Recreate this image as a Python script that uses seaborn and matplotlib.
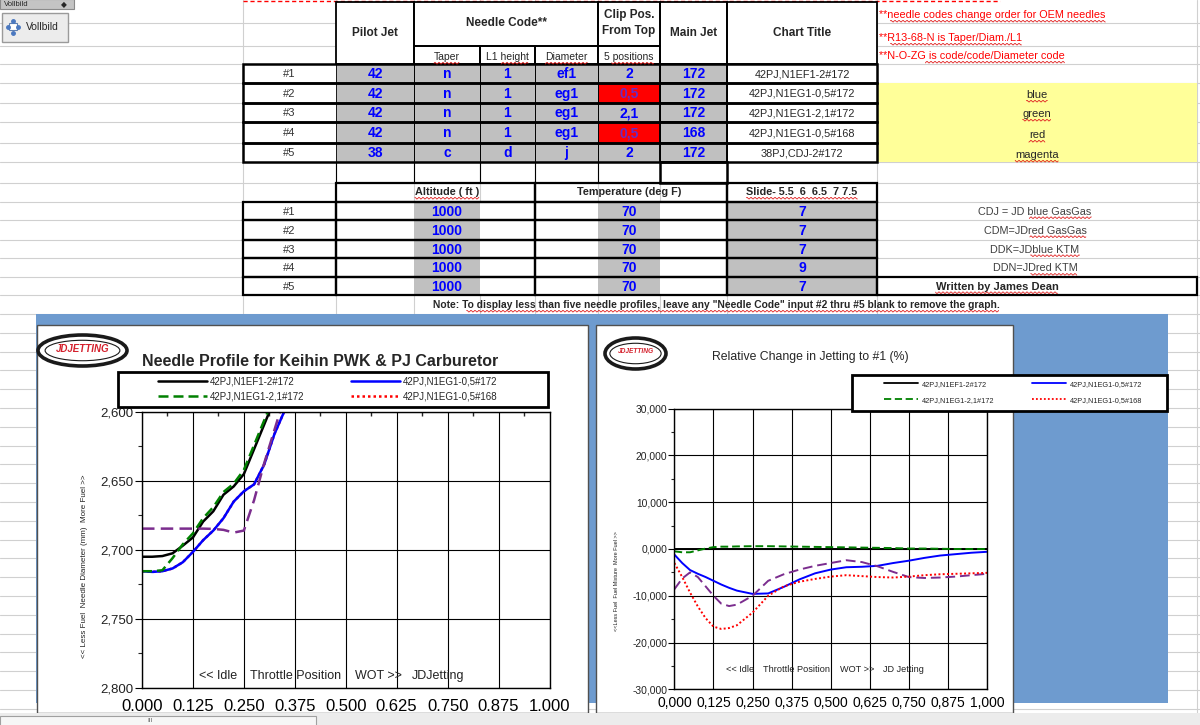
import numpy as np
import pandas as pd
import matplotlib
matplotlib.use('Agg')
import matplotlib.pyplot as plt
from matplotlib.patches import Rectangle, Ellipse
from matplotlib.lines import Line2D
from matplotlib.ticker import FixedLocator, FuncFormatter
import seaborn as sns

# ---------------- data ----------------
row_labels = ['#1', '#2', '#3', '#4', '#5']
pilot_jet = [42, 42, 42, 42, 38]
taper = ['n', 'n', 'n', 'n', 'c']
l1_height = ['1', '1', '1', '1', 'd']
diameter = ['ef1', 'eg1', 'eg1', 'eg1', 'j']
clip_pos = ['2', '0,5', '2,1', '0,5', '2']
main_jet = [172, 172, 172, 168, 172]
altitude = [1000, 1000, 1000, 1000, 1000]
temperature = [70, 70, 70, 70, 70]
slide = [7, 7, 7, 9, 7]
color_names = ['blue', 'green', 'red', 'magenta']
needle_notes = ['CDJ = JD blue GasGas', 'CDM=JDred GasGas', 'DDK=JDblue KTM', 'DDN=JDred KTM']

chart_titles = [f'{p}PJ,{t.upper()}{l.upper()}{d.upper()}-{c}#{m}'
                for p, t, l, d, c, m in zip(pilot_jet, taper, l1_height, diameter, clip_pos, main_jet)]

# needle profile (diameter in mm vs throttle position)
throttle_needle = [0.0, 0.025, 0.05, 0.075, 0.1, 0.125, 0.15, 0.175, 0.2, 0.225,
                   0.25, 0.275, 0.3, 0.325, 0.35, 0.375]
diam_1 = [2.705, 2.705, 2.7045, 2.7025, 2.697, 2.691, 2.6795, 2.672, 2.660, 2.654,
          2.645, 2.627, 2.609, 2.591, 2.573, 2.555]
diam_2 = [2.7155, 2.716, 2.7155, 2.7135, 2.709, 2.7015, 2.693, 2.686, 2.677, 2.665,
          2.6575, 2.6525, 2.638, 2.616, 2.599, 2.582]
diam_3 = [2.7155, 2.7155, 2.7148, 2.706, 2.696, 2.688, 2.677, 2.669, 2.658, 2.652,
          2.642, 2.624, 2.606, 2.588, 2.570, 2.552]
diam_4 = diam_2  # same needle, only main jet differs
diam_5 = [2.6846, 2.6846, 2.6846, 2.6846, 2.6846, 2.6846, 2.6846, 2.6848, 2.6855, 2.6875,
          2.686, 2.664, 2.637, 2.613, 2.589, 2.565]

# relative change in jetting to #1 (%)
throttle_rel = [0.0, 0.025, 0.05, 0.075, 0.1, 0.125, 0.15, 0.175, 0.2, 0.25, 0.3, 0.35,
                0.4, 0.45, 0.5, 0.55, 0.6, 0.65, 0.7, 0.75, 0.8, 0.85, 0.9, 0.95, 1.0]
rel_1 = [0.0] * 25
rel_2 = [-1.2, -3.0, -4.5, -5.3, -6.0, -6.8, -7.6, -8.3, -8.9, -9.6, -9.5, -8.1,
         -6.5, -5.2, -4.4, -3.9, -3.8, -3.6, -3.0, -2.5, -1.9, -1.4, -1.1, -0.8, -0.6]
rel_3 = [-0.5, -0.7, -0.7, -0.3, 0.1, 0.4, 0.5, 0.5, 0.55, 0.6, 0.6, 0.55,
         0.5, 0.45, 0.4, 0.35, 0.3, 0.25, 0.2, 0.1, 0.1, 0.05, 0.0, 0.0, 0.0]
rel_4 = [-3.0, -6.0, -9.3, -12.3, -14.8, -16.6, -17.1, -16.9, -16.3, -13.6, -10.0, -8.0,
         -7.0, -6.4, -5.9, -5.6, -5.8, -6.0, -6.1, -5.9, -5.6, -5.4, -5.3, -5.2, -5.1]
rel_5 = [-8.6, -6.3, -5.0, -6.0, -8.0, -10.0, -11.7, -12.2, -11.9, -10.0, -6.8, -5.4,
         -4.4, -3.6, -3.0, -2.4, -2.8, -3.7, -4.9, -6.0, -6.2, -6.1, -5.9, -5.6, -5.3]

line_colors = ['#000000', '#0000ff', '#008000', '#ff0000', '#7b2d8e']
line_dashes = ['', '', (4, 2), (1, 1.2), (5, 2.5)]

# ---------------- style ----------------
sns.set_theme(style='white')
plt.rcParams['font.family'] = ['Liberation Sans', 'DejaVu Sans']

W, H = 1200, 725
fig = plt.figure(figsize=(12, 7.25), dpi=100, facecolor='white')


def px_axes(x0, y0, x1, y1, z):
    return fig.add_axes([x0 / W, 1 - y1 / H, (x1 - x0) / W, (y1 - y0) / H], zorder=z)


bg = fig.add_axes([0, 0, 1, 1], zorder=0)
bg.set_xlim(0, W); bg.set_ylim(H, 0); bg.axis('off')
ov = fig.add_axes([0, 0, 1, 1], zorder=5)
ov.set_xlim(0, W); ov.set_ylim(H, 0); ov.axis('off')

# ---------------- spreadsheet background ----------------
grid_c = '#d0d0d0'
cols = [243, 336, 414, 480, 535, 598, 660, 727, 877, 1197]
rows = [22.7, 45.7, 64.3, 83.3, 102.7, 122.3, 143.3, 162.3, 182.7, 201.7, 220.3,
        239.7, 258.3, 277, 295.3, 314] + list(np.arange(332.8, 712, 18.8))
for y in rows:
    bg.plot([0, W], [y, y], color=grid_c, lw=0.8, zorder=0)
for x in cols:
    bg.plot([x, x], [0, H], color=grid_c, lw=0.8, zorder=0)

# page-break marks
bg.plot([243, 1000], [1, 1], color='red', lw=1, ls=(0, (3, 2)), zorder=1)

# toolbar
bg.add_patch(Rectangle((0, -1), 74, 10, fc='#c4c4c4', ec='#8a8a8a', lw=0.8, zorder=2))
bg.text(4, 4.3, 'Vollbild', fontsize=5.5, va='center', zorder=3)
bg.text(64, 4.3, '\u25c6', fontsize=5.5, va='center', ha='center', zorder=3,
        family=['DejaVu Sans'])
bg.add_patch(Rectangle((2, 13), 66, 29, fc='#ececec', ec='#9a9a9a', lw=1, zorder=2))
bg.add_patch(Rectangle((9, 23), 8, 7, fc='white', ec='#6080b0', lw=0.8, zorder=3))
for dx, dy in [(-5, 0), (5, 0), (0, -6), (0, 6)]:
    bg.plot(13 + dx, 26.5 + dy, marker='o', ms=2.5, color='#4a78c0', zorder=3)
bg.text(26, 27, 'Vollbild', fontsize=7.5, va='center', zorder=3)

squiggle = []  # (text artist, start fraction)


def cell(x0, x1, y0, y1, fc='none', lw=1.0, z=2):
    bg.add_patch(Rectangle((x0, y0), x1 - x0, y1 - y0, fc=fc, ec='black', lw=lw, zorder=z))


def fill(x0, x1, y0, y1, fc):
    bg.add_patch(Rectangle((x0, y0), x1 - x0, y1 - y0, fc=fc, ec='none', zorder=1.5))


c0, c1, c2, c3, c4, c5, c6, c7, c8, c9 = cols
# table 1 headers
for a, b, y0, y1 in [(c1, c2, 2, 64.3), (c2, c5, 2, 45.7), (c2, c3, 45.7, 64.3), (c3, c4, 45.7, 64.3),
                     (c4, c5, 45.7, 64.3), (c5, c6, 2, 45.7), (c5, c6, 45.7, 64.3),
                     (c6, c7, 2, 64.3), (c7, c8, 2, 64.3)]:
    fill(a, b, y0, y1, 'white')
    cell(a, b, y0, y1, lw=1.3)
hb = dict(fontsize=8.5, fontweight='bold', ha='center', va='center', zorder=4)
hr = dict(fontsize=7.5, ha='center', va='center', zorder=4)
bg.text((c1 + c2) / 2, 33, 'Pilot Jet', **hb)
bg.text((c2 + c5) / 2, 23, 'Needle Code**', **hb)
bg.text((c5 + c6) / 2, 23, 'Clip Pos.\nFrom Top', linespacing=1.35, **hb)
bg.text((c6 + c7) / 2, 33, 'Main Jet', **hb)
bg.text((c7 + c8) / 2, 33, 'Chart Title', **hb)
squiggle.append((bg.text((c2 + c3) / 2, 57, 'Taper', **hr), 0))
squiggle.append((bg.text((c3 + c4) / 2, 57, 'L1 height', **hr), 0.35))
squiggle.append((bg.text((c4 + c5) / 2, 57, 'Diameter', **hr), 0))
squiggle.append((bg.text((c5 + c6) / 2, 57, '5 positions', **hr), 0.15))

# notes in red
for y, s, f in [(15, '**needle codes change order for OEM needles', 0.05),
                (38, '**R13-68-N is Taper/Diam./L1', 0.08),
                (56, '**N-O-ZG is code/code/Diameter code', 0.25)]:
    t = bg.text(879, y, s, color='#ff0000', fontsize=7.8, va='center', zorder=4)
    squiggle.append((t, f))

# yellow legend-colour area
fill(c8, c9, 83.3, 162.3, '#ffff99')
for s, y in zip(color_names, [95, 114, 135, 155]):
    squiggle.append((bg.text(1037, y, s, fontsize=8, ha='center', va='center', zorder=4), 0))

row_y = [64.3, 83.3, 102.7, 122.3, 143.3, 162.3]
val = dict(fontsize=10, fontweight='bold', color='#0000ff', ha='center', va='center', zorder=4)
for i in range(5):
    y0, y1 = row_y[i], row_y[i + 1]
    ym = (y0 + y1) / 2 + 0.5
    fill(c0, c1, y0, y1, 'white')
    fill(c1, c7, y0, y1, '#c0c0c0')
    fill(c7, c8, y0, y1, 'white')
    clip_red = clip_pos[i] == '0,5'
    if clip_red:
        fill(c5, c6, y0, y1, '#ff0000')
    for a, b in [(c1, c2), (c2, c3), (c3, c4), (c4, c5), (c5, c6), (c6, c7)]:
        cell(a, b, y0, y1, lw=0.6)
    cell(c0, c8, y0, y1, lw=1.8)
    cell(c6, c7, y0, y1, lw=1.4)
    bg.text((c0 + c1) / 2, ym, row_labels[i], fontsize=8, color='#333333', ha='center', va='center', zorder=4)
    bg.text((c1 + c2) / 2, ym, str(pilot_jet[i]), **val)
    bg.text((c2 + c3) / 2, ym, taper[i], **val)
    bg.text((c3 + c4) / 2, ym, l1_height[i], **val)
    bg.text((c4 + c5) / 2, ym, diameter[i], **val)
    v2 = dict(val)
    if clip_red:
        v2['color'] = '#6a2bc0'
    bg.text((c5 + c6) / 2, ym, clip_pos[i], **v2)
    bg.text((c6 + c7) / 2, ym, str(main_jet[i]), **val)
    bg.text((c7 + c8) / 2, ym, chart_titles[i], fontsize=7.8, ha='center', va='center', zorder=4)

# empty row under table 1
for x in [c1, c2, c3, c4, c5]:
    bg.plot([x, x], [162.3, 182.7], color='black', lw=0.8, zorder=3)
cell(c6, c7, 162.3, 182.7, lw=1.8)

# table 2
cell(c1, c4, 182.7, 201.7, lw=1.6)
cell(c4, c7, 182.7, 201.7, lw=1.6)
cell(c7, c8, 182.7, 201.7, lw=1.6)
h2 = dict(fontsize=7.8, fontweight='bold', ha='center', va='center', zorder=4)
squiggle.append((bg.text((c2 + c3) / 2, 192, 'Altitude ( ft )', **h2), 0))
bg.text((c5 + c6) / 2, 192, 'Temperature (deg F)', **h2)
squiggle.append((bg.text((c7 + c8) / 2, 192, 'Slide- 5.5  6  6.5  7 7.5', **h2), 0))

row2_y = [201.7, 220.3, 239.7, 258.3, 277, 295.3]
for i in range(5):
    y0, y1 = row2_y[i], row2_y[i + 1]
    ym = (y0 + y1) / 2 + 0.5
    fill(c0, c7, y0, y1, 'white')
    fill(c2, c3, y0, y1, '#c0c0c0')
    fill(c5, c6, y0, y1, '#c0c0c0')
    fill(c7, c8, y0, y1, '#c0c0c0')
    cell(c0, c1, y0, y1, lw=1.6)
    cell(c1, c4, y0, y1, lw=1.6)
    cell(c4, c7, y0, y1, lw=1.6)
    cell(c7, c8, y0, y1, lw=1.6)
    bg.text((c0 + c1) / 2, ym, row_labels[i], fontsize=8, color='#333333', ha='center', va='center', zorder=4)
    bg.text((c2 + c3) / 2, ym, str(altitude[i]), **val)
    bg.text((c5 + c6) / 2, ym, str(temperature[i]), **val)
    bg.text((c7 + c8) / 2, ym, str(slide[i]), **val)
    if i < 4:
        t = bg.text(1035, ym, needle_notes[i], fontsize=7.8, color='#404040', ha='center', va='center', zorder=4)
        squiggle.append((t, 0.45))
fill(c8, c9, 277, 295.3, 'white')
cell(c8, c9, 277, 295.3, lw=1.6)
squiggle.append((bg.text(997, 286.5, 'Written by James Dean', fontsize=8, fontweight='bold',
                         ha='center', va='center', zorder=4), 0))

squiggle.append((bg.text(716, 305, 'Note: To display less than five needle profiles, leave any '
                         '"Needle Code" input #2 thru #5 blank to remove the graph.', fontsize=7.4,
                         fontweight='bold', ha='center', va='center', zorder=4), 0.06))

# chart panels
bg.add_patch(Rectangle((36, 314), 1132, 389, fc='#6e9bcf', ec='none', zorder=3))
bg.add_patch(Rectangle((36.5, 325), 551.5, 388, fc='white', ec='#505050', lw=1, zorder=3.2))
bg.add_patch(Rectangle((596, 325), 417, 388, fc='white', ec='#505050', lw=1, zorder=3.2))
# bottom scroll bar
bg.add_patch(Rectangle((0, 713), W, 12, fc='#ececec', ec='none', zorder=4))
bg.add_patch(Rectangle((0, 715.5), 316, 10, fc='#f6f6f6', ec='#a0a0a0', lw=0.8, zorder=4.1))
bg.text(150, 720, 'III', fontsize=4.5, ha='center', va='center', color='#555555', zorder=4.2)

# ---------------- charts ----------------
setups = chart_titles
needle_df = pd.concat([
    pd.DataFrame({'throttle': throttle_needle, 'diameter': d, 'setup': s})
    for d, s in zip([diam_1, diam_2, diam_3, diam_4, diam_5], setups)])
rel_df = pd.concat([
    pd.DataFrame({'throttle': throttle_rel, 'change': r, 'setup': s})
    for r, s in zip([rel_1, rel_2, rel_3, rel_4, rel_5], setups)])
palette = dict(zip(setups, line_colors))
dashes = dict(zip(setups, line_dashes))

axL = px_axes(142, 412, 549.5, 687.7, 2)
axR = px_axes(674.4, 408.7, 987, 689.3, 2)

# left: red hidden under blue (identical needle)
sns.lineplot(data=needle_df, x='throttle', y='diameter', hue='setup', style='setup',
             hue_order=[setups[3], setups[0], setups[1], setups[2], setups[4]],
             palette=palette, dashes=dashes, linewidth=1.8, legend=False, ax=axL)
sns.lineplot(data=rel_df, x='throttle', y='change', hue='setup', style='setup',
             hue_order=[setups[0], setups[1], setups[2], setups[4], setups[3]],
             palette=palette, dashes=dashes, linewidth=1.4, legend=False, ax=axR)

xt = np.arange(0, 1.0001, 0.125)
for ax in (axL, axR):
    ax.set_facecolor('none')
    ax.set_xlim(0, 1)
    ax.set_xticks(xt)
    ax.set_xlabel('')
    ax.set_ylabel('')
    ax.grid(True, which='major', color='black', lw=0.8)
    for sp in ax.spines.values():
        sp.set_visible(True)
        sp.set_color('black')
        sp.set_linewidth(1)

axL.set_ylim(2.8, 2.6)
axL.set_yticks([2.6, 2.65, 2.7, 2.75, 2.8])
axL.yaxis.set_minor_locator(FixedLocator([2.625, 2.675, 2.725, 2.775]))
axL.xaxis.set_minor_locator(FixedLocator(np.arange(0.0625, 1, 0.125)))
axL.xaxis.set_major_formatter(FuncFormatter(lambda v, p: f'{v:.3f}'))
axL.yaxis.set_major_formatter(FuncFormatter(lambda v, p: f'{v:.3f}'.replace('.', ',')))
axL.tick_params(axis='x', which='major', length=0, labelsize=12, pad=8, colors='black')
axL.tick_params(axis='x', which='minor', bottom=False, top=True, direction='in', length=3)
axL.tick_params(axis='y', which='major', left=True, direction='out', length=5, width=0.8,
                labelsize=9.5, pad=1, colors='black', labelcolor='#222222')
axL.tick_params(axis='y', which='minor', left=True, direction='out', length=3, width=0.8)

axR.set_ylim(-30, 30)
axR.set_yticks([-30, -20, -10, 0, 10, 20, 30])
axR.yaxis.set_minor_locator(FixedLocator([-25, -15, -5, 5, 15, 25]))
axR.xaxis.set_major_formatter(FuncFormatter(lambda v, p: f'{v:.3f}'.replace('.', ',')))
axR.yaxis.set_major_formatter(FuncFormatter(lambda v, p: f'{v:.3f}'.replace('.', ',')))
axR.tick_params(axis='x', which='major', length=0, labelsize=10, pad=5, colors='black')
axR.tick_params(axis='y', which='major', left=True, direction='out', length=4, width=0.8,
                labelsize=7.4, pad=1, colors='black', labelcolor='#222222')
axR.tick_params(axis='y', which='minor', left=True, direction='out', length=2.5, width=0.8)

# ---------------- overlay: titles, logos, legends ----------------
def logo(cx, cy, w, h, fs):
    ov.add_patch(Ellipse((cx, cy), w, h, fc='white', ec='#1a1a1a', lw=2.6))
    ov.add_patch(Ellipse((cx, cy), w * 0.84, h * 0.66, fc='white', ec='#1a1a1a', lw=0.8))
    ov.text(cx, cy - h * 0.05, 'JDJETTING', color='#d4202c', fontsize=fs, fontweight='bold',
            style='italic', ha='center', va='center')


logo(82.5, 350.5, 89, 31, 7)
logo(635.5, 353.5, 61, 31, 4.8)

ov.text(320, 361, 'Needle Profile for Keihin PWK & PJ Carburetor', fontsize=11.5,
        fontweight='bold', ha='center', va='center')
ov.text(810, 357, 'Relative Change in Jetting to #1 (%)', fontsize=8.8,
        ha='center', va='center')

ov.text(85, 566, '<< Less Fuel  Needle Diameter (mm)  More Fuel >>', rotation=90,
        fontsize=5.8, ha='center', va='center', color='#222222')
ov.text(616, 581, '<<Less Fuel  Fuel Mixture  More Fuel >>', rotation=90,
        fontsize=4.0, ha='center', va='center', color='#222222')

for x, s in [(199, '<< Idle'), (250, 'Throttle Position'), (355, 'WOT >>'), (412, 'JDJetting')]:
    ov.text(x, 676, s, fontsize=9, ha='left', va='center', color='#222222')
for x, s in [(726, '<< Idle'), (763, 'Throttle Position'), (840, 'WOT >>'), (883, 'JD Jetting')]:
    ov.text(x, 669, s, fontsize=6.6, ha='left', va='center', color='#222222')

handles = [Line2D([], [], color=line_colors[i], lw=1.8,
                  dashes=line_dashes[i] if line_dashes[i] else (None, None))
           for i in range(4)]
leg_order = [0, 2, 1, 3]

ov.add_patch(Rectangle((117.5, 371.7), 430.5, 35, fc='white', ec='black', lw=2))
legL = ov.legend([handles[i] for i in leg_order], [setups[i] for i in leg_order],
                 loc='upper left', bbox_to_anchor=(158, 376), bbox_transform=ov.transData,
                 ncol=2, frameon=False, fontsize=7, handlelength=5, handletextpad=0.35,
                 columnspacing=4.8, labelspacing=0.55, borderpad=0, borderaxespad=0)
ov.add_artist(legL)

handlesR = [Line2D([], [], color=line_colors[i], lw=1.3,
                   dashes=line_dashes[i] if line_dashes[i] else (None, None))
            for i in range(4)]
ov.add_patch(Rectangle((851.5, 375), 315.5, 36, fc='white', ec='black', lw=2))
ov.legend([handlesR[i] for i in leg_order], [setups[i] for i in leg_order],
          loc='upper left', bbox_to_anchor=(884, 380.5), bbox_transform=ov.transData,
          ncol=2, frameon=False, fontsize=5.3,
          handlelength=4.6, handletextpad=0.5, columnspacing=5.2, labelspacing=1.25,
          borderpad=0, borderaxespad=0)

# spell-check style red wavy underlines
fig.canvas.draw()
renderer = fig.canvas.get_renderer()
inv = bg.transData.inverted()
for t, f in squiggle:
    bb = t.get_window_extent(renderer)
    (xa, yb), (xb, _) = inv.transform([(bb.x0, bb.y0), (bb.x1, bb.y1)])
    xa = xa + f * (xb - xa)
    xs = np.arange(xa, xb, 1.0)
    bg.plot(xs, yb + 1.2 + 0.9 * np.sin(xs * np.pi / 2), color='#e02020', lw=0.6, zorder=4.5)

fig.savefig('out.png', dpi=100)
